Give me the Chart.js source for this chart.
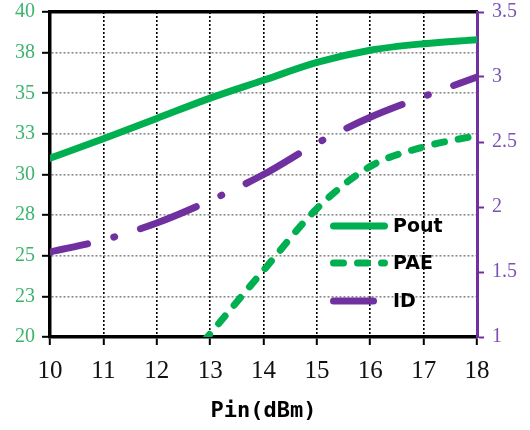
<!DOCTYPE html>
<html>
<head>
<meta charset="utf-8">
<script src="https://cdn.jsdelivr.net/npm/chart.js@4"></script>
<style>
  body { margin: 0; background: #fff; }
  #wrap { width: 530px; height: 430px; }
</style>
</head>
<body>
<div id="wrap"><canvas id="chart" width="530" height="430"></canvas></div>
<script>
// values
const pinValues = [10, 11, 12, 13, 14, 15, 16, 17, 18];
const poutValues = [31.0, 32.2, 33.45, 34.7, 35.8, 36.9, 37.65, 38.05, 38.3];
const paeValues = [null, null, 16.3, 20.2, 24.1, 27.9, 30.5, 31.7, 32.4];
const idValues = [1.654, 1.746, 1.877, 2.05, 2.25, 2.49, 2.69, 2.85, 3.0];
const seriesNames = ['Pout', 'PAE', 'ID'];
const xTitle = 'Pin(dBm)';

const GREEN = '#00b050';
const PURPLE = '#7030a0';
const GREEN_TEXT = '#3cb46e';
const PURPLE_TEXT = '#7b52b3';

function toPoints(values) {
    return pinValues.map((x, i) => ({ x: x, y: values[i] }));
}

// no extra room for overhanging end labels
function noPad(s) {
    s.paddingTop = 0;
    s.paddingBottom = 0;
    s.paddingLeft = 0;
    s.paddingRight = 0;
}

// legend drawn inside the plot, lower right
const insideLegend = {
    id: 'insideLegend',
    afterDatasetsDraw(chart) {
        const ctx = chart.ctx;
        const rows = [
            { y: 226, x1: 333.5, x2: 384.5 },
            { y: 263, x1: 333.5, x2: 384.5 },
            { y: 301, x1: 333.5, x2: 373.5 }
        ];
        chart.data.datasets.forEach((ds, i) => {
            const r = rows[i];
            ctx.save();
            ctx.strokeStyle = ds.borderColor;
            ctx.lineWidth = ds.borderWidth;
            ctx.lineCap = 'round';
            ctx.setLineDash(ds.borderDash || []);
            ctx.beginPath();
            ctx.moveTo(r.x1, r.y);
            ctx.lineTo(r.x2, r.y);
            ctx.stroke();
            ctx.setLineDash([]);
            ctx.fillStyle = '#000';
            ctx.font = 'bold 19px "DejaVu Sans"';
            ctx.textBaseline = 'middle';
            ctx.fillText(ds.label, 393, r.y + 1);
            ctx.restore();
        });
    }
};

const ctx = document.getElementById('chart').getContext('2d');
new Chart(ctx, {
    type: 'line',
    data: {
        datasets: [
            {
                label: seriesNames[0],
                data: toPoints(poutValues),
                yAxisID: 'y',
                borderColor: GREEN,
                borderWidth: 7,
                borderCapStyle: 'round',
                cubicInterpolationMode: 'monotone',
                pointRadius: 0,
                clip: 0
            },
            {
                label: seriesNames[1],
                data: toPoints(paeValues),
                yAxisID: 'y',
                borderColor: GREEN,
                borderWidth: 7,
                borderCapStyle: 'round',
                borderDash: [10, 14],
                cubicInterpolationMode: 'monotone',
                pointRadius: 0,
                clip: 0
            },
            {
                label: seriesNames[2],
                data: toPoints(idValues),
                yAxisID: 'y1',
                borderColor: PURPLE,
                borderWidth: 7,
                borderCapStyle: 'round',
                borderDash: [60, 27, 1, 27],
                borderDashOffset: 21.5,
                cubicInterpolationMode: 'monotone',
                pointRadius: 0,
                clip: 0
            }
        ]
    },
    options: {
        responsive: false,
        animation: false,
        layout: { padding: 0 },
        plugins: {
            legend: { display: false },
            tooltip: { enabled: false }
        },
        scales: {
            x: {
                type: 'linear',
                position: 'bottom',
                min: 10,
                max: 18,
                afterFit: (s) => { s.height = 93; noPad(s); },
                ticks: {
                    stepSize: 1,
                    color: '#111',
                    padding: 11,
                    font: { family: '"Liberation Serif"', size: 25 }
                },
                grid: {
                    color: '#000',
                    lineWidth: 1.6,
                    tickColor: '#000',
                    tickWidth: 2,
                    tickLength: 8
                },
                border: { color: '#000', width: 3.5, dash: [2, 2] },
                title: {
                    display: true,
                    text: xTitle,
                    color: '#000',
                    font: { family: '"DejaVu Sans Mono"', size: 22, weight: 'bold' },
                    padding: { top: 0, bottom: 6 }
                }
            },
            xTop: {
                type: 'linear',
                position: 'top',
                min: 10,
                max: 18,
                afterFit: (s) => { s.height = 12; noPad(s); },
                ticks: { display: false },
                grid: { display: false, drawTicks: false },
                border: { color: '#000', width: 3.5 }
            },
            y: {
                type: 'linear',
                position: 'left',
                min: 20,
                max: 40,
                afterFit: (s) => { s.width = 50; noPad(s); },
                ticks: {
                    stepSize: 2.5,
                    color: GREEN_TEXT,
                    padding: 7,
                    font: { family: '"Liberation Serif"', size: 20 },
                    callback: (v) => Math.round(v)
                },
                grid: {
                    color: '#8a8a8a',
                    lineWidth: 1.6,
                    tickColor: '#000',
                    tickWidth: 2,
                    tickLength: 8
                },
                border: { color: '#000', width: 3.5, dash: [2, 2] }
            },
            y1: {
                type: 'linear',
                position: 'right',
                min: 1,
                max: 3.5,
                afterFit: (s) => { s.width = 53; noPad(s); },
                ticks: {
                    stepSize: 0.5,
                    color: PURPLE_TEXT,
                    padding: 8,
                    font: { family: '"Liberation Serif"', size: 20 },
                    callback: (v) => String(v)
                },
                grid: {
                    drawOnChartArea: false,
                    tickColor: PURPLE,
                    tickWidth: 2,
                    tickLength: 7
                },
                border: { color: PURPLE, width: 3 }
            }
        }
    },
    plugins: [insideLegend]
});
</script>
</body>
</html>
